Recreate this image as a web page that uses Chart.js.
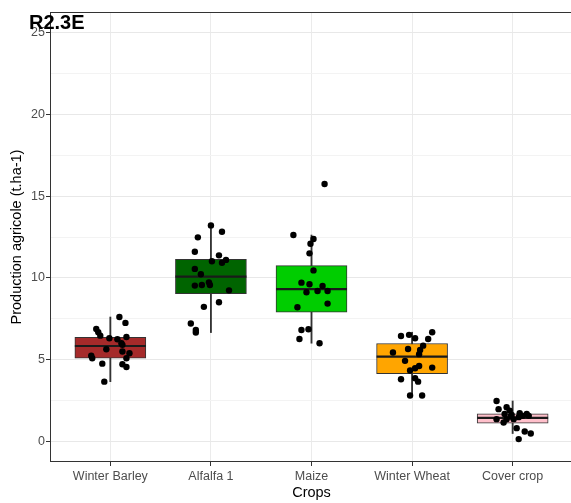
<!DOCTYPE html>
<html><head><meta charset="utf-8">
<script src="https://cdn.jsdelivr.net/npm/chart.js@4.4.1/dist/chart.umd.min.js"></script>
<style>html,body{margin:0;padding:0;background:#fff;overflow:hidden;}#wrap{width:580px;height:503px;position:relative;}canvas{display:block;}</style>
</head><body><div id="wrap"><canvas id="c" width="580" height="503" style="width:580px;height:503px;"></canvas></div>
<script>
const categories = ['Winter Barley', 'Alfalfa 1', 'Maize', 'Winter Wheat', 'Cover crop'];
const boxColors = ['#a52a2a', '#006400', '#00cd00', '#ffa500', '#ffc0cb'];
const q1 = [5.09, 9.04, 7.90, 4.15, 1.12];
const medians = [5.84, 10.08, 9.32, 5.19, 1.45];
const q3 = [6.37, 11.14, 10.75, 5.99, 1.69];
const whiskerLow = [3.66, 6.66, 6.01, 2.81, 0.49];
const whiskerHigh = [7.61, 13.21, 12.62, 6.68, 2.48];

const barleyValues = [7.61, 7.25, 6.88, 6.68, 6.47, 6.31, 6.25, 6.39, 6.01, 5.91, 5.64, 5.50, 5.40, 5.09, 5.25, 5.09, 4.76, 4.72, 4.56, 3.66];
const barleyJitter = [0.09, 0.15, -0.14, -0.12, -0.10, -0.01, 0.07, 0.16, 0.11, 0.12, -0.04, 0.12, 0.19, 0.16, -0.19, -0.18, -0.08, 0.12, 0.16, -0.06];
const alfalfaValues = [13.21, 12.82, 12.48, 11.60, 11.38, 11.02, 10.93, 11.10, 10.55, 10.22, 9.53, 9.57, 9.73, 9.57, 9.24, 8.51, 8.23, 7.21, 6.82, 6.66];
const alfalfaJitter = [0.00, 0.11, -0.13, -0.16, 0.08, 0.01, 0.11, 0.15, -0.16, -0.10, -0.16, -0.09, -0.02, -0.01, 0.18, 0.08, -0.07, -0.20, -0.15, -0.15];
const maizeValues = [15.74, 12.62, 12.38, 12.09, 11.50, 10.46, 9.71, 9.61, 9.51, 9.12, 9.20, 9.20, 8.21, 8.43, 6.82, 6.86, 6.27, 6.01];
const maizeJitter = [0.13, -0.18, 0.02, -0.01, -0.02, 0.02, -0.10, -0.02, 0.11, -0.05, 0.06, 0.16, -0.14, 0.16, -0.10, -0.03, -0.12, 0.08];
const wheatValues = [6.45, 6.52, 6.31, 6.68, 6.27, 5.86, 5.60, 5.66, 5.44, 5.34, 4.93, 4.62, 4.48, 4.34, 4.52, 3.81, 3.87, 3.66, 2.81, 2.81];
const wheatJitter = [-0.11, -0.03, 0.03, 0.20, 0.16, 0.11, 0.08, -0.04, -0.19, 0.07, -0.07, 0.07, 0.03, -0.02, 0.20, -0.11, 0.03, 0.06, -0.02, 0.10];
const coverValues = [2.48, 1.98, 2.10, 1.89, 1.69, 1.63, 1.73, 1.69, 1.57, 1.37, 1.16, 1.37, 1.37, 1.49, 0.82, 0.61, 0.49, 0.15, 1.53, 1.57];
const coverJitter = [-0.16, -0.14, -0.06, -0.03, -0.08, -0.01, 0.07, 0.14, 0.16, -0.16, -0.09, -0.06, 0.01, 0.06, 0.04, 0.12, 0.18, 0.06, -0.02, 0.10];

const yTickValues = [0, 2.5, 5, 7.5, 10, 12.5, 15, 17.5, 20, 22.5, 25];
const yMajorLabels = ['0', '5', '10', '15', '20', '25'];
const plotTitle = 'R2.3E';
const xTitle = 'Crops';
const yTitle = 'Production agricole (t.ha-1)';

const allValues = [barleyValues, alfalfaValues, maizeValues, wheatValues, coverValues];
const allJitter = [barleyJitter, alfalfaJitter, maizeJitter, wheatJitter, coverJitter];
const pointData = [];
allValues.forEach((vals, i) => vals.forEach((v, k) => pointData.push({x: i + allJitter[i][k], y: v})));

Chart.defaults.font.family = '"Liberation Sans", Arial, sans-serif';
const isMajor = v => Math.abs(v % 5) < 1e-9;

const panelPlugin = {
  id: 'panel',
  afterDraw(chart) {
    const {ctx, chartArea: a} = chart;
    ctx.save();
    ctx.strokeStyle = '#333333';
    ctx.lineWidth = 1;
    ctx.strokeRect(Math.round(a.left) + 0.5, Math.round(a.top) + 0.5, Math.round(a.right - a.left), Math.round(a.bottom - a.top) - 1);
    ctx.fillStyle = '#000';
    ctx.font = 'bold 20px "Liberation Sans", Arial, sans-serif';
    ctx.textBaseline = 'alphabetic';
    ctx.textAlign = 'left';
    ctx.fillText(plotTitle, 29, 29);
    ctx.restore();
  }
};

new Chart(document.getElementById('c'), {
  type: 'bar',
  data: {
    datasets: [
      {
        type: 'scatter', label: 'points', data: pointData, order: 0,
        pointRadius: 3.2, pointBackgroundColor: '#000', pointBorderWidth: 0, pointHoverRadius: 3.2
      },
      {
        type: 'scatter', label: 'median', order: 1,
        data: medians.map((m, i) => ({x: i, y: m})),
        pointStyle: 'line', pointRadius: 35.5, pointHoverRadius: 35.5,
        pointBorderColor: '#1a1a1a', pointBorderWidth: 2.2
      },
      {
        label: 'box', order: 2, grouped: false,
        data: q1.map((v, i) => ({x: i, y: [v, q3[i]]})),
        backgroundColor: boxColors, borderColor: '#333333', borderWidth: 1,
        borderSkipped: false, barThickness: 71
      },
      {
        label: 'whisker', order: 3, grouped: false,
        data: whiskerLow.map((v, i) => ({x: i, y: [v, whiskerHigh[i]]})),
        backgroundColor: '#333333', borderWidth: 0, barThickness: 1.2
      }
    ]
  },
  options: {
    responsive: false,
    animation: false,
    events: [],
    layout: {autoPadding: false, padding: {left: 0, right: 7, top: 12, bottom: 0}},
    plugins: {legend: {display: false}, tooltip: {enabled: false}, title: {display: false}},
    scales: {
      x: {
        type: 'linear', min: -0.6, max: 4.6, offset: false,
        afterBuildTicks: s => { s.ticks = categories.map((_, i) => ({value: i})); },
        afterFit: s => { s.height = 41; },
        ticks: {autoSkip: false, maxRotation: 0, color: '#4d4d4d', font: {size: 12.5}, padding: 3,
          callback: (v, i) => categories[i]},
        grid: {offset: false, color: '#ebebeb', lineWidth: 1, tickColor: '#333333', tickLength: 4, drawTicks: true},
        border: {display: false},
        title: {display: true, text: xTitle, color: '#000', font: {size: 14.5}, padding: {top: 0, bottom: 1}}
      },
      y: {
        type: 'linear', min: -1.25, max: 26.25, beginAtZero: false,
        afterBuildTicks: s => { s.ticks = yTickValues.map(v => ({value: v})); },
        afterFit: s => { s.width = 50; },
        ticks: {autoSkip: false, color: '#4d4d4d', font: {size: 12.5}, padding: 1,
          callback: v => (isMajor(v) ? yMajorLabels[Math.round(v / 5)] : '')},
        grid: {
          color: c => (c.tick && isMajor(c.tick.value) ? '#e8e8e8' : '#f3f3f3'),
          lineWidth: 1,
          tickColor: c => (c.tick && isMajor(c.tick.value) ? '#333333' : 'rgba(0,0,0,0)'),
          tickLength: 4, drawTicks: true
        },
        border: {display: false},
        title: {display: true, text: yTitle, color: '#000', font: {size: 14.5}, padding: {top: 8, bottom: 0}}
      }
    }
  },
  plugins: [panelPlugin]
});
</script></body></html>
